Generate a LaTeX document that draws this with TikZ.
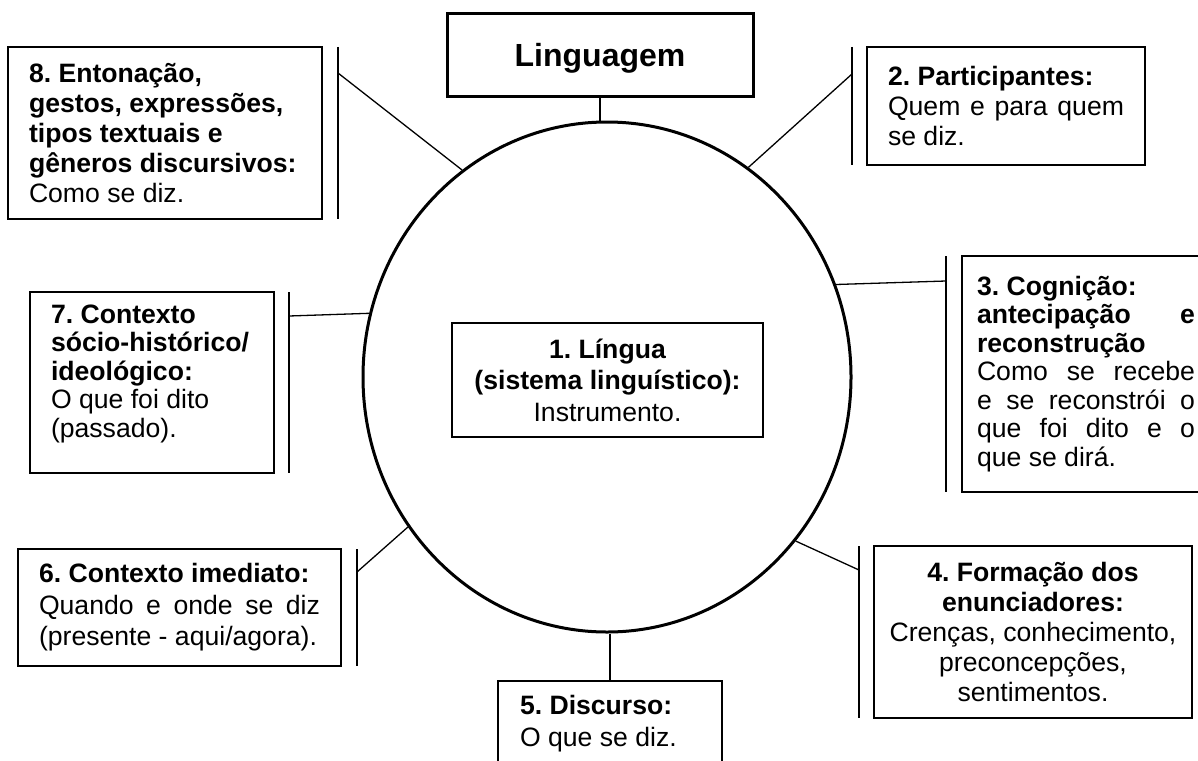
\documentclass[tikz,border=0pt]{standalone}
\usepackage{fontspec}
\setmainfont{Liberation Sans}
\usetikzlibrary{shapes.geometric}
\newcommand\justline[2]{\makebox[#1][s]{#2}}
\begin{document}
\frenchspacing
\begin{tikzpicture}[x=1pt,y=-1pt,
  box/.style={draw, line width=1.5pt, inner ysep=0pt, align=flush left, font=\fontsize{26.6}{30}\selectfont\frenchspacing},
  bar/.style={line width=1.5pt},
  link/.style={line width=1.3pt},
]
\useasboundingbox (0,0) rectangle (1198,760);
\fill[white] (0,0) rectangle (1198,760);

% central ellipse
\node[ellipse, draw, line width=3pt, minimum width=488pt, minimum height=510pt, inner sep=0pt] (lang) at (607,377) {};

% title
\node[box, line width=3pt, minimum width=306pt, minimum height=82pt, inner xsep=0pt, align=flush center, text depth=0pt,
      font=\fontsize{32}{36}\selectfont\bfseries] (L) at (600,55) {Linguagem};

% 1
\node[box, minimum width=311pt, minimum height=114pt, inner xsep=10pt, text width=291pt, align=flush center,
      font=\fontsize{26.6}{31.5}\selectfont\frenchspacing] (b1) at (607.5,380)
  {\textbf{1. Língua}\\ \textbf{(sistema linguístico):}\\ Instrumento.};

% 8
\node[box, minimum height=172pt, inner xsep=21pt, text width=272pt] (b8) at (165,133)
  {\textbf{8. Entonação,}\\ \textbf{gestos, expressões,}\\ \textbf{tipos textuais e}\\ \textbf{gêneros discursivos:}\\ Como se diz.};

% 2
\node[box, minimum height=118pt, inner xsep=21pt, text width=236pt] (b2) at (1006,106)
  {\textbf{2. Participantes:}\\ \justline{236pt}{Quem e para quem}\\ se diz.};

% 7
\node[box, minimum height=181pt, inner xsep=21pt, text width=202pt, font=\fontsize{26.6}{28.5}\selectfont\frenchspacing] (b7) at (152,382.5)
  {\textbf{7. Contexto}\\ \textbf{sócio-histórico/}\\ \textbf{ideológico:}\\ O que foi dito\\ (passado).\par\kern18pt};

% 3
\node[box, minimum height=236pt, inner xsep=15pt, text width=218pt, font=\fontsize{26.6}{28.5}\selectfont\frenchspacing] (b3) at (1086,374)
  {\textbf{3. Cognição:}\\ \justline{218pt}{\textbf{antecipação e}}\\ \textbf{reconstrução}\\
   \justline{218pt}{Como se recebe}\\ \justline{218pt}{e se reconstrói o}\\ \justline{218pt}{que foi dito e o}\\ que se dirá.};

% 6
\node[box, minimum height=117pt, inner xsep=21pt, text width=281pt, font=\fontsize{26.6}{31.5}\selectfont\frenchspacing] (b6) at (179.5,607.5)
  {\textbf{6. Contexto imediato:}\\ \justline{281pt}{Quando e onde se diz}\\ \mbox{(presente - aqui/agora).}};

% 4
\node[box, minimum height=172pt, inner xsep=10pt, text width=298pt, align=flush center] (b4) at (1033,632)
  {\textbf{4. Formação dos}\\ \textbf{enunciadores:}\\ Crenças, conhecimento,\\ preconcepções,\\ sentimentos.};

% 5
\node[box, minimum height=85pt, inner xsep=22pt, text width=180pt, font=\fontsize{26.6}{32}\selectfont\frenchspacing] (b5) at (610,723.5)
  {\textbf{5. Discurso:}\\ O que se diz.};

% bars
\coordinate (v8a) at (338,47);  \coordinate (v8b) at (338,219); \coordinate (c8) at (338,73);
\coordinate (v2a) at (852,47);  \coordinate (v2b) at (852,165); \coordinate (c2) at (852,74);
\coordinate (v7a) at (289,292); \coordinate (v7b) at (289,473); \coordinate (c7) at (289,316);
\coordinate (v3a) at (946,256); \coordinate (v3b) at (946,492); \coordinate (c3) at (946,281);
\coordinate (v6a) at (357,549); \coordinate (v6b) at (357,666); \coordinate (c6) at (357,572);
\coordinate (v4a) at (859,546); \coordinate (v4b) at (859,718); \coordinate (c4) at (859,570);

\foreach \n in {8,2,7,3,6,4} { \draw[bar] (v\n a) -- (v\n b); }

% connectors
\draw[link] (c8) -- (lang.125.4);
\draw[link] (c2) -- (lang.56);
\draw[link] (c7) -- (lang.165.6);
\draw[link] (c3) -- (lang.22.5);
\draw[link] (c6) -- (lang.217.5);
\draw[link] (c4) -- (lang.319.9);
\draw[line width=2pt] (L.south) -- (L.south |- lang.north);
\draw[link] (lang.south -| b5.north) -- (b5.north);
\end{tikzpicture}
\end{document}
